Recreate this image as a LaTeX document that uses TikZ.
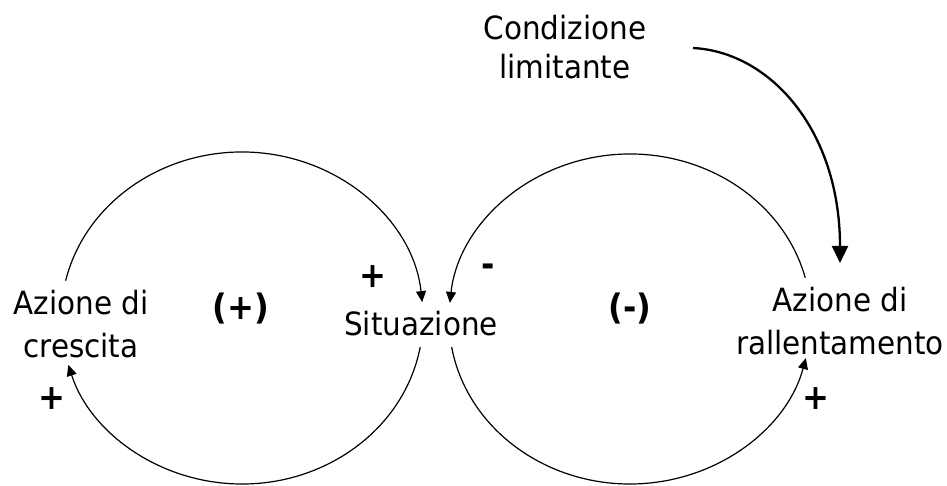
\documentclass[tikz,border=0pt]{standalone}
\usepackage{fontspec}
\setmainfont{DejaVu Sans}[FakeStretch=0.92]
\usetikzlibrary{arrows.meta}
\begin{document}
\begin{tikzpicture}[x=1pt,y=1pt,
  lbl/.style={inner sep=0pt, align=center, font=\fontsize{32}{43}\selectfont},
  sgn/.style={inner sep=0pt, font=\fontsize{35}{40}\selectfont\bfseries},
  loopline/.style={line width=1.2pt, -{Triangle[length=11pt,width=10pt]}},
  infl/.style={line width=2.3pt, -{Triangle[length=17pt,width=16pt]}}]
\useasboundingbox (0,0) rectangle (947,-486);
% labels
\node[lbl] (cresc) at (81,-324.3) {Azione di\\crescita};
\node[lbl] (rall) at (840,-321.3) {Azione di\\rallentamento};
\node[lbl, font=\fontsize{32}{39}\selectfont] (cond) at (565,-47.4) {Condizione\\limitante};
\node[lbl, anchor=base] (sit) at (421,-335) {Situazione};
\node[sgn] (pos) at (241,-308.5) {(+)};
\node[sgn] (neg) at (630,-308.5) {(-)};
\node[sgn] (p1) at (373,-277) {+};
\node[sgn, anchor=base] (m1) at (488,-276.5) {-};
\node[sgn] (p2) at (52,-399) {+};
\node[sgn] (p3) at (816,-399) {+};
% loops
\coordinate (LC) at (242,-318);
\coordinate (RC) at (630,-319);
\draw[loopline] (LC) ++(167:181pt and 166pt) coordinate (la)
  arc[start angle=167, end angle=5.5, x radius=181pt, y radius=166pt];
\draw[loopline] (LC) ++(-10.1:181pt and 166pt) coordinate (lb)
  arc[start angle=-10.1, end angle=-163.6, x radius=181pt, y radius=166pt];
\draw[loopline] (RC) ++(14.5:181pt and 165pt) coordinate (ra)
  arc[start angle=14.5, end angle=174.4, x radius=181pt, y radius=165pt];
\draw[loopline] (RC) ++(189.8:181pt and 165pt) coordinate (rb)
  arc[start angle=189.8, end angle=346.3, x radius=181pt, y radius=165pt];
% influence arrow
\coordinate (cs) at (693,-48);
\coordinate (ce) at (840,-263);
\draw[infl] (cs) .. controls (770,-52) and (840,-130) .. (ce);
\end{tikzpicture}
\end{document}
